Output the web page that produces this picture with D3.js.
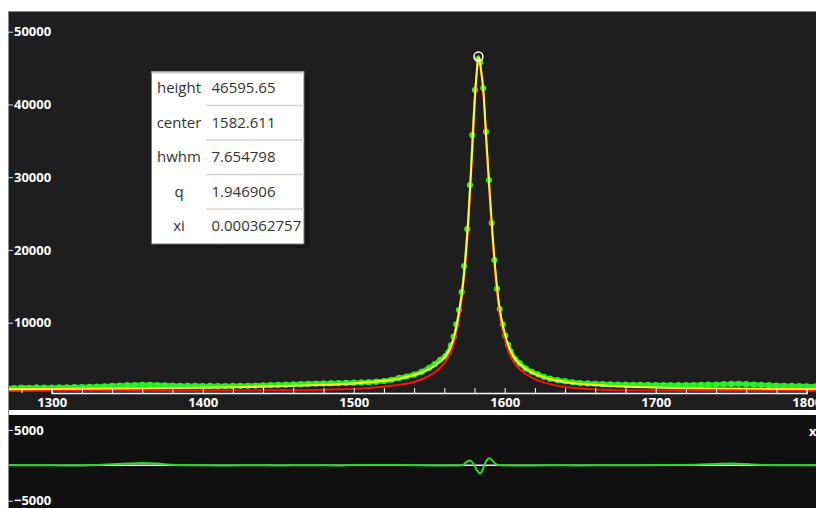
<!DOCTYPE html>
<html>
<head>
<meta charset="utf-8">
<script src="https://cdn.jsdelivr.net/npm/d3@7"></script>
<style>
body { margin: 0; background: #fff; }
svg { display: block; }
.tk text { font-family: "Open Sans", sans-serif; font-weight: bold; font-size: 13px; fill: #fff; }
.box text { font-family: "Open Sans", sans-serif; font-size: 15px; fill: #333; }
</style>
</head>
<body>
<script>
// measured spectrum (green points)
const dataX = [1270,1275,1280,1285,1290,1295,1300,1305,1310,1315,1320,1325,1330,1335,1340,1345,1350,1355,1360,1365,
  1370,1375,1380,1385,1390,1395,1400,1405,1410,1415,1420,1425,1430,1435,1440,1445,1450,1455,1460,1465,
  1470,1475,1480,1485,1490,1495,1500,1505,1510,1515,1520,1525,1530,1535,1540,1545,1550,1553.7,1557.2,1560.8,
  1562.6,1564.4,1566.2,1567.9,1569.7,1571.5,1573.2,1575.2,1577.0,1578.5,1580.3,1582.1,1583.9,1585.8,1587.6,
  1589.6,1591.4,1593.2,1594.9,1596.7,1598.7,1600.4,1602.2,1604.0,1607,1610,1614,1618,1622,1626,1630,1635,1640,
  1645,1650,1655,1660,1665,1670,1675,1680,1685,1690,1695,1700,1705,1710,1715,1720,1725,1730,1735,1740,1745,
  1750,1755,1760,1765,1770,1775,1780,1785,1790,1795,1800,1806]
const dataY = [1050,1000,1080,1040,1100,1060,1080,1120,1100,1150,1150,1180,1220,1260,1320,1360,1400,1430,1460,1450,
  1420,1380,1350,1320,1300,1310,1290,1300,1280,1290,1300,1310,1330,1350,1380,1420,1450,1480,1520,1560,
  1600,1620,1650,1680,1700,1720,1750,1780,1820,1880,1980,2150,2400,2600,2850,3250,3800,4300,4900,5400,
  5870,6890,8070,9770,11740,14210,17790,22870,28920,35790,41980,46200,45800,42250,36250,
  29610,23700,18610,14670,11880,9770,8210,6970,6010,5000,4400,3700,3250,2900,2550,2300,2100,1950,
  1800,1700,1650,1600,1560,1520,1500,1480,1460,1450,1440,1430,1420,1420,1410,1420,1430,1450,1470,1500,1540,
  1580,1600,1550,1500,1450,1400,1350,1320,1300,1280,1250,1250]

// fit (yellow) and peak component (red)
const fitX = [1270,1300,1350,1400,1450,1480,1500,1520,1530,1540,1550,1555,1560,1563,1566,1568,1570,1572,1574,1576,
  1578,1580,1581.5,1582.6,1584,1586,1588,1590,1592,1594,1596,1598,1600,1603,1606,1610,1615,1620,1630,1640,
  1650,1670,1700,1750,1806]
const fitY = [850,880,950,1050,1250,1450,1650,2000,2300,2800,3600,4250,5200,6100,7700,9400,11700,14600,18800,24500,
  32000,40000,44500,46600,45200,41500,34500,28000,22000,16800,12900,10300,8500,6500,5300,4300,3500,2950,2250,1850,
  1600,1300,1100,950,880]
const peakY = [620,630,640,650,700,780,900,1200,1450,1850,2700,3350,4400,5400,7000,8700,11000,14000,18200,24000,
  31500,39500,44200,46300,45000,41000,34000,27300,21200,16000,12100,9500,7800,5800,4600,3600,2800,2250,1550,1150,
  950,750,680,640,620]

// residual (bottom panel)
const residX = [1270,1290,1310,1330,1340,1350,1360,1370,1380,1395,1410,1430,1450,1470,1490,1500,1520,1540,1560,1570,
  1572.5,1574,1575.5,1577,1578.5,1580,1581.5,1583.6,1585.3,1586.5,1588,1589.8,1591.5,1593.5,1595.5,1597,
  1610,1630,1650,1670,1690,1710,1730,1740,1750,1760,1770,1790,1806]
const residY = [0,30,-20,60,150,250,320,250,80,0,-30,20,-20,30,-10,40,60,10,-20,0,
  50,350,600,680,450,0,-650,-1150,-700,0,700,1000,750,300,50,0,
  -30,20,-10,30,0,40,120,200,260,180,60,0,20]

const xTicks = d3.range(1280, 1801, 20)
const yTicks = [10000, 20000, 30000, 40000, 50000]
const resTicks = [5000, -5000]

const params = ["height", "center", "hwhm", "q", "xi"]
const paramValues = ["46595.65", "1582.611", "7.654798", "1.946906", "0.000362757"]
const peakPos = [1582.611, 46595.65]

const W = 816, H = 508
const L = 8, R = 816, T = 11, B = 393

const svg = d3.select("body").append("svg").attr("width", W).attr("height", H)

const x = d3.scaleLinear().domain([1300, 1800]).range([51.7, 806.7])
const y = d3.scaleLinear().domain([0, 50000]).range([395.4, 31.7])
const yr = d3.scaleLinear().domain([-5000, 5000]).range([500.7, 430])

// panels
svg.append("rect").attr("x", L).attr("y", T).attr("width", R - L).attr("height", 410 - T).attr("fill", "#1e1e1e")
svg.append("rect").attr("x", L).attr("y", 415).attr("width", R - L).attr("height", H - 415).attr("fill", "#101010")
svg.append("line").attr("x1", L).attr("x2", R).attr("y1", 412.5).attr("y2", 412.5).attr("stroke", "#fff").attr("stroke-width", 4)
svg.append("line").attr("x1", L + 0.5).attr("x2", L + 0.5).attr("y1", T).attr("y2", H).attr("stroke", "#8a8a8a")
svg.append("line").attr("x1", L).attr("x2", R).attr("y1", T + 0.5).attr("y2", T + 0.5).attr("stroke", "#8a8a8a")

svg.append("clipPath").attr("id", "plot").append("rect")
  .attr("x", L + 1).attr("y", T + 1).attr("width", R - L).attr("height", B - T - 1)
svg.append("clipPath").attr("id", "res").append("rect")
  .attr("x", L + 1).attr("y", 415).attr("width", R - L).attr("height", H - 415)

const plot = svg.append("g").attr("clip-path", "url(#plot)")

const data = dataX.map((d, i) => [d, dataY[i]])
const fit = fitX.map((d, i) => [d, fitY[i]])
const peak = fitX.map((d, i) => [d, peakY[i]])

const line = d3.line().x(d => x(d[0])).y(d => y(d[1]))
const smooth = d3.line().x(d => x(d[0])).y(d => y(d[1])).curve(d3.curveMonotoneX)

// dense tail points merge into a thick band; on the steep flanks only the dots show
plot.append("path").datum(data).attr("d", line.defined(d => d[1] < 7000))
  .attr("fill", "none").attr("stroke", "#1ee81e").attr("stroke-width", 4.5).attr("stroke-linejoin", "round")
plot.append("path").datum(data).attr("d", line.defined(() => true))
  .attr("fill", "none").attr("stroke", "#1ee81e").attr("stroke-width", 1.5)
plot.selectAll("circle.pt").data(data).join("circle").attr("class", "pt")
  .attr("cx", d => x(d[0])).attr("cy", d => y(d[1])).attr("r", 3.1).attr("fill", "#2aee2a")
plot.append("path").datum(peak).attr("d", smooth)
  .attr("fill", "none").attr("stroke", "#ff1010").attr("stroke-width", 2)
plot.append("path").datum(fit).attr("d", smooth)
  .attr("fill", "none").attr("stroke", "#ffff1a").attr("stroke-width", 2)

// peak marker
plot.append("circle").attr("cx", x(peakPos[0])).attr("cy", y(peakPos[1])).attr("r", 4.5)
  .attr("fill", "none").attr("stroke", "#fff").attr("stroke-width", 1.5)
plot.append("circle").attr("cx", x(peakPos[0])).attr("cy", y(peakPos[1])).attr("r", 1.3).attr("fill", "#f0a020")

// axes
const xAxis = svg.append("g").attr("class", "tk").attr("transform", `translate(0,${B})`)
  .call(d3.axisBottom(x).tickValues(xTicks).tickSize(-5).tickPadding(5)
    .tickFormat(d => d % 100 === 0 ? d : ""))
xAxis.select(".domain").attr("stroke", "#fff").attr("stroke-width", 1.5)
xAxis.selectAll(".tick line").attr("stroke", "#fff")

const yAxis = svg.append("g").attr("class", "tk").attr("transform", `translate(${L},0)`)
  .call(d3.axisRight(y).tickValues(yTicks).tickSize(5).tickPadding(1).tickFormat(d3.format("d")))
yAxis.select(".domain").remove()
yAxis.selectAll(".tick line").attr("stroke", "#ddd")

const rAxis = svg.append("g").attr("class", "tk").attr("transform", `translate(${L},0)`)
  .call(d3.axisRight(yr).tickValues(resTicks).tickSize(5).tickPadding(1).tickFormat(d3.format("d")))
rAxis.select(".domain").remove()
rAxis.selectAll(".tick line").attr("stroke", "#ddd")

svg.append("text").attr("x", 809).attr("y", 436)
  .attr("font-family", "Open Sans").attr("font-weight", "bold").attr("font-size", 13).attr("fill", "#fff").text("x")

// residual panel
const res = svg.append("g").attr("clip-path", "url(#res)")
res.append("line").attr("x1", L).attr("x2", R).attr("y1", yr(0)).attr("y2", yr(0))
  .attr("stroke", "#e8e8e8").attr("stroke-width", 1.5)
const resid = residX.map((d, i) => [d, residY[i]])
res.append("path").datum(resid)
  .attr("d", d3.line().x(d => x(d[0])).y(d => yr(d[1])).curve(d3.curveMonotoneX))
  .attr("fill", "none").attr("stroke", "#22dd22").attr("stroke-width", 2)

// parameter box
const bx = 151.5, by = 71.5, bw = 152.5, rowH = 34.5
const box = svg.append("g").attr("class", "box")
box.append("rect").attr("x", bx + 5).attr("y", by + 4).attr("width", bw).attr("height", rowH * 5)
  .attr("fill", "#161616")
box.append("rect").attr("x", bx).attr("y", by).attr("width", bw).attr("height", rowH * 5)
  .attr("fill", "#fff").attr("stroke", "#777")
box.append("line").attr("x1", bx).attr("x2", bx + bw).attr("y1", by + 1).attr("y2", by + 1)
  .attr("stroke", "#c8c8c8").attr("stroke-width", 2)
box.append("clipPath").attr("id", "boxclip").append("rect")
  .attr("x", bx).attr("y", by).attr("width", bw).attr("height", rowH * 5)

const rows = box.append("g").attr("clip-path", "url(#boxclip)")
  .selectAll("g").data(params).join("g")
  .attr("transform", (d, i) => `translate(0,${by + rowH * i})`)
rows.filter((d, i) => i < params.length - 1).append("line")
  .attr("x1", 206).attr("x2", bx + bw).attr("y1", rowH - 0.5).attr("y2", rowH - 0.5)
  .attr("stroke", "#d4d4d4").attr("stroke-width", 1.5)
rows.append("text").attr("x", 179).attr("y", 21.5).attr("text-anchor", "middle").text(d => d)
rows.append("text").attr("x", 211.5).attr("y", 21.5).text((d, i) => paramValues[i])
</script>
</body>
</html>
